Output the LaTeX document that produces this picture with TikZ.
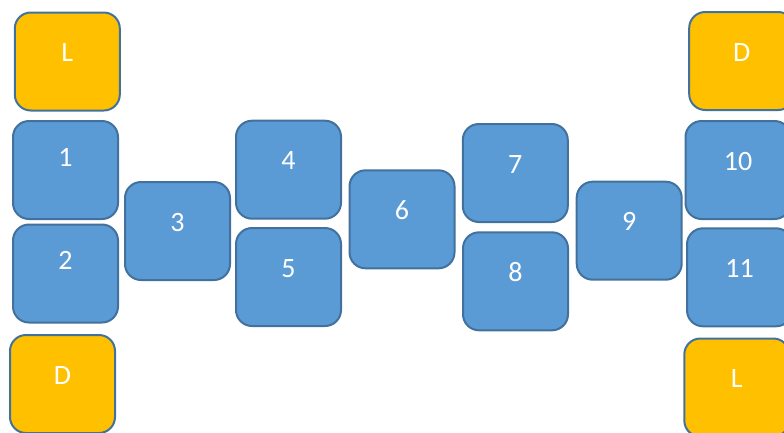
\documentclass[tikz,border=0pt]{standalone}
\usepackage{fontspec}
\setmainfont{Carlito}
\definecolor{boxblue}{HTML}{5B9BD5}
\definecolor{boxline}{HTML}{41719C}
\definecolor{boxgold}{HTML}{FFC000}
\begin{document}
\begin{tikzpicture}[x=1pt,y=-1pt,
  tile/.style={draw=boxline,line width=2pt,rounded corners=16pt,
    minimum width=105pt,minimum height=98pt,text=white,
    font=\fontsize{28}{33}\selectfont,text height=10pt,text depth=10pt},
  blk/.style={tile,fill=boxblue},
  end/.style={tile,fill=boxgold},
  hi/.style={text height=6pt,text depth=14pt}]
\useasboundingbox (0,0) rectangle (784,432);
\clip (0,0) rectangle (784,432);
\node[end] (ltop) at (67.3,61.5) {L};
\node[blk,hi] (n1) at (65.5,170) {1};
\node[blk,hi] (n2) at (65.5,273.5) {2};
\node[end] (dbot) at (62.5,384) {D};
\node[blk] (n3) at (177.5,231) {3};
\node[blk] (n4) at (288.5,169.7) {4};
\node[blk] (n5) at (288.5,277) {5};
\node[blk] (n6) at (402,219.3) {6};
\node[blk] (n7) at (515.3,173) {7};
\node[blk] (n8) at (515.5,281.3) {8};
\node[blk] (n9) at (629.2,230.7) {9};
\node[end] (dtop) at (741.7,61) {D};
\node[blk] (n10) at (738,170) {10};
\node[blk] (n11) at (739.5,277.3) {11};
\node[end] (lbot) at (736.8,387.5) {L};
\end{tikzpicture}
\end{document}
